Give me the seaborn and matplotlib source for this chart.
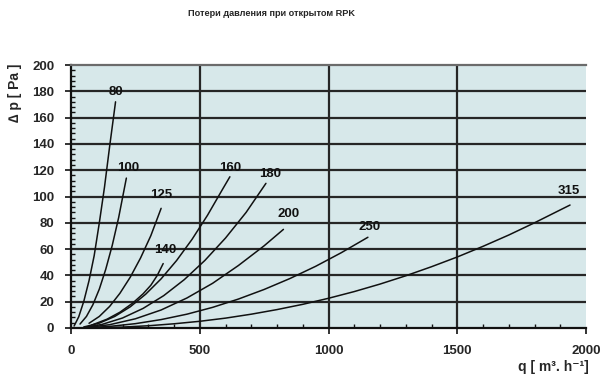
import matplotlib
matplotlib.use("Agg")
import numpy as np
import pandas as pd
import matplotlib.pyplot as plt
import seaborn as sns
from matplotlib.ticker import MultipleLocator

# data (q in m3/h, dp in Pa)
q_80 = [12, 30, 50, 70, 90, 110, 130, 150, 173]
dp_80 = [1.5, 8.5, 20.5, 36, 55, 80, 107, 138, 172]

q_100 = [35, 60, 85, 110, 135, 160, 185, 215]
dp_100 = [3, 8.8, 17.7, 29.6, 44.7, 62.7, 83.9, 114]

q_125 = [70, 110, 150, 190, 230, 270, 310, 350]
dp_125 = [3.6, 8.8, 16.4, 26.4, 38.6, 53.2, 70.2, 91]

q_140 = [80, 140, 190, 240, 280, 310, 335, 358]
dp_140 = [2.2, 6.7, 12, 19, 26, 32.5, 40, 49]

q_160 = [50, 110, 170, 230, 290, 350, 410, 470, 530, 590, 617]
dp_160 = [0.8, 3.7, 8.8, 16.1, 25.7, 37.4, 51.3, 67.4, 85.7, 106, 115]

q_180 = [50, 120, 200, 280, 360, 440, 520, 600, 680, 757]
dp_180 = [0.5, 2.7, 7.6, 14.9, 24.6, 36.8, 51.4, 68.4, 87.9, 110]

q_200 = [60, 150, 250, 350, 450, 550, 650, 750, 825]
dp_200 = [0.4, 2.5, 7, 13.7, 22.8, 34, 47.5, 62.5, 75]

q_250 = [60, 150, 250, 350, 450, 550, 650, 750, 850, 950, 1050, 1153]
dp_250 = [0.2, 1.2, 3.3, 6.4, 10.5, 15.7, 22, 29.3, 37.6, 46.9, 57.3, 69]

q_315 = [100, 200, 300, 400, 500, 600, 700, 800, 900, 1000,
         1100, 1200, 1300, 1400, 1500, 1600, 1700, 1800, 1900, 1938]
dp_315 = [0.2, 0.7, 1.7, 3.2, 5.1, 7.5, 10.5, 14, 18, 22.6,
          27.7, 33.4, 39.7, 46.6, 54, 62.1, 70.7, 80, 89.8, 93.5]

sizes = ["80", "100", "125", "140", "160", "180", "200", "250", "315"]
all_q = [q_80, q_100, q_125, q_140, q_160, q_180, q_200, q_250, q_315]
all_dp = [dp_80, dp_100, dp_125, dp_140, dp_160, dp_180, dp_200, dp_250, dp_315]

# where the size labels sit
label_q = [175, 223, 352, 365, 617, 773, 844, 1161, 1934]
label_dp = [179.5, 122, 101, 59.3, 121.4, 117, 87, 76.6, 104.4]

frames = []
for s, q, dp in zip(sizes, all_q, all_dp):
    frames.append(pd.DataFrame({"q": q, "dp": dp, "DN": s}))
df = pd.concat(frames, ignore_index=True)

sns.set_style("white")
plt.rcParams["font.family"] = ["Liberation Sans", "DejaVu Sans"]
plt.rcParams["font.weight"] = "bold"

fig = plt.figure(figsize=(6.05, 3.81), dpi=100)
ax = fig.add_axes([71 / 605, 1 - 328 / 381, 515 / 605, 263 / 381])
ax.set_facecolor("#d7e8ea")

# grid
for y in range(20, 200, 20):
    ax.axhline(y, color="#262626", lw=1.6, zorder=1)
for x in [500, 1000, 1500]:
    ax.axvline(x, color="#262626", lw=1.6, zorder=1)

sns.lineplot(data=df, x="q", y="dp", hue="DN", palette={s: "#111111" for s in sizes},
             estimator=None, sort=False, legend=False, lw=1.1, ax=ax, zorder=3)

for s, lq, ld in zip(sizes, label_q, label_dp):
    ax.text(lq, ld, s, ha="center", va="center", fontsize=9.5, fontweight="bold",
            color="#111111", zorder=4)

ax.set_xlim(0, 2000)
ax.set_ylim(0, 200)
ax.xaxis.set_major_locator(MultipleLocator(500))
ax.xaxis.set_minor_locator(MultipleLocator(100))
ax.yaxis.set_major_locator(MultipleLocator(20))
ax.yaxis.set_minor_locator(MultipleLocator(4))
ax.tick_params(which="major", direction="out", length=4, width=1.2, color="#111111",
               labelsize=9.5, pad=8, bottom=True, left=True)
ax.tick_params(which="minor", direction="in", length=3, width=1, color="#111111",
               bottom=True, left=True)
for lab in ax.get_xticklabels() + ax.get_yticklabels():
    lab.set_fontweight("bold")

for side in ["left", "bottom"]:
    ax.spines[side].set_color("#111111")
    ax.spines[side].set_linewidth(1.6)
ax.spines["top"].set_color("#6b6b6b")
ax.spines["top"].set_linewidth(1.6)
ax.spines["right"].set_visible(False)
ax.set_xlabel("")
ax.set_ylabel("")

fig.text(15 / 605, 1 - 93 / 381, "\u2206 p [ Pa ]", rotation=90, ha="center", va="center",
         fontsize=10, fontweight="bold")
fig.text(553 / 605, 1 - 367 / 381, "q [ m\u00b3. h\u207b\u00b9]", ha="center", va="center",
         fontsize=10, fontweight="bold")
fig.text(272 / 605, 1 - 13 / 381, "Потери давления при открытом RPK", ha="center",
         va="center", fontsize=6.6, fontweight="bold")

fig.savefig("out.png", dpi=100)
